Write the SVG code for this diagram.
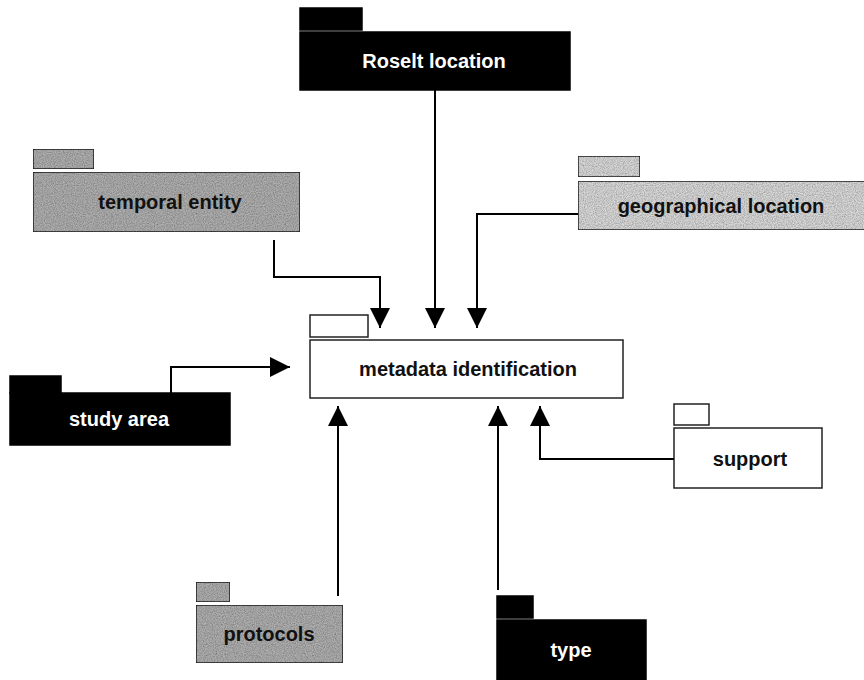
<svg xmlns="http://www.w3.org/2000/svg" width="864" height="680" viewBox="0 0 864 680">
  <defs>
    <marker id="arr" markerUnits="userSpaceOnUse" markerWidth="20" markerHeight="20" viewBox="0 0 18 18" refX="18" refY="9" orient="auto">
      <path d="M0,0 L18,9 L0,18 Z" fill="#000"/>
    </marker>
    <filter id="grain" x="0" y="0" width="1" height="1">
      <feTurbulence type="fractalNoise" baseFrequency="0.9" numOctaves="2" seed="3" result="n"/>
      <feColorMatrix in="n" type="matrix" values="0 0 0 0 0  0 0 0 0 0  0 0 0 0 0  0 0 0 0.9 -0.25" result="dots"/>
      <feComposite in="dots" in2="SourceGraphic" operator="in" result="d2"/>
      <feMerge><feMergeNode in="SourceGraphic"/><feMergeNode in="d2"/></feMerge>
    </filter>
  </defs>
  <style>
    .lbl { font-family: "Liberation Sans", Arial, sans-serif; font-weight: bold; font-size: 20px; text-anchor: middle; }
    .dark rect { fill: #000; stroke: #000; stroke-width: 1.5; }
    .dark text { fill: #fff; }
    .gray rect { fill: #b0b0b0; stroke: #222; stroke-width: 1.5; filter: url(#grain); }
    .gray text { fill: #111; }
    .light rect { fill: #dadada; stroke: #222; stroke-width: 1.5; filter: url(#grain); }
    .light text { fill: #111; }
    .white rect { fill: #fff; stroke: #222; stroke-width: 1.5; }
    .white text { fill: #111; }
    .conn path { fill: none; stroke: #000; stroke-width: 2; marker-end: url(#arr); }
  </style>
  <rect width="864" height="680" fill="#fff"/>

  <g id="roselt-location" class="dark">
    <rect x="300" y="8" width="62" height="22"/>
    <rect x="300" y="32" width="270" height="58"/>
    <text class="lbl" x="434" y="68">Roselt location</text>
  </g>

  <g id="temporal-entity" class="gray">
    <rect x="33" y="149" width="61" height="20"/>
    <rect x="33" y="172" width="267" height="60"/>
    <text class="lbl" x="170" y="209">temporal entity</text>
  </g>

  <g id="geographical-location" class="light">
    <rect x="578" y="156" width="62" height="21"/>
    <rect x="578" y="181" width="290" height="49"/>
    <text class="lbl" x="721" y="213">geographical location</text>
  </g>

  <g id="study-area" class="dark">
    <rect x="10" y="376" width="51" height="17"/>
    <rect x="10" y="393" width="220" height="52"/>
    <text class="lbl" x="119" y="426">study area</text>
  </g>

  <g id="metadata-identification" class="white">
    <rect x="310" y="315" width="58" height="22"/>
    <rect x="310" y="340" width="313" height="58"/>
    <text class="lbl" x="468" y="376">metadata identification</text>
  </g>

  <g id="support" class="white">
    <rect x="674" y="404" width="35" height="21"/>
    <rect x="674" y="428" width="148" height="60"/>
    <text class="lbl" x="750" y="466">support</text>
  </g>

  <g id="protocols" class="gray">
    <rect x="196" y="582" width="34" height="20"/>
    <rect x="196" y="605" width="147" height="58"/>
    <text class="lbl" x="269" y="641">protocols</text>
  </g>

  <g id="type" class="dark">
    <rect x="497" y="596" width="36" height="22"/>
    <rect x="497" y="620" width="149" height="62"/>
    <text class="lbl" x="571" y="657">type</text>
  </g>

  <g id="connectors" class="conn">
    <path d="M435,90 L435,328"/>
    <path d="M274,240 L274,277 L380,277 L380,328"/>
    <path d="M578,214 L477,214 L477,328"/>
    <path d="M171,393 L171,367 L290,367"/>
    <path d="M338,596 L338,406"/>
    <path d="M498,590 L498,406"/>
    <path d="M674,459 L540,459 L540,406"/>
  </g>
</svg>
